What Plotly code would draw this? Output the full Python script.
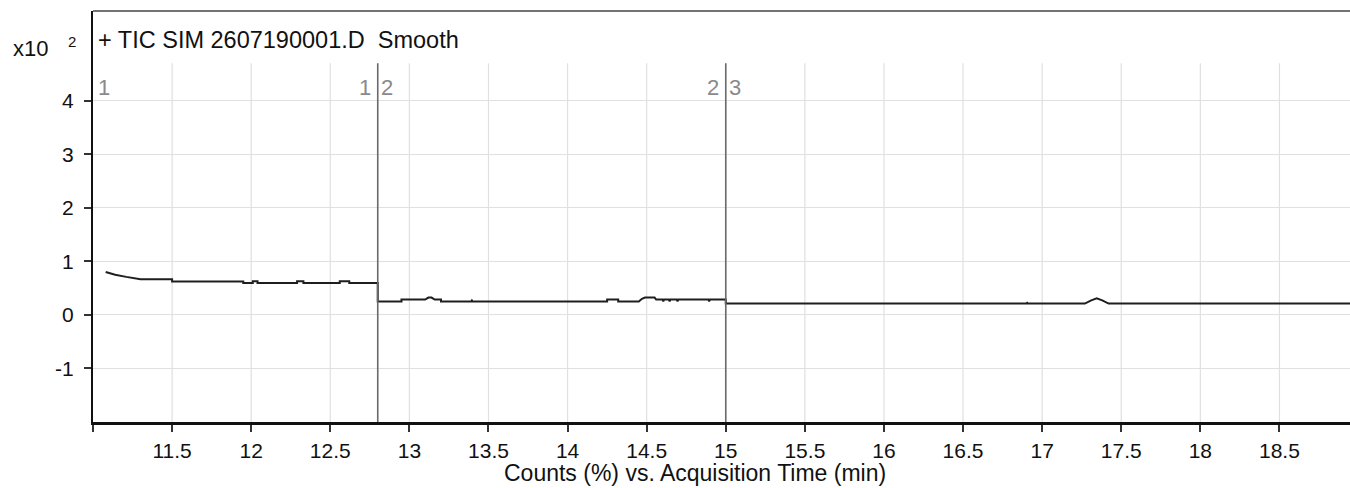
import plotly.graph_objects as go

# ---- data (x10^2 counts vs acquisition time, min) ----
time_min = [
    11.08, 11.14, 11.21, 11.30, 11.50, 11.50, 11.95, 11.95, 12.01, 12.01,
    12.04, 12.04, 12.29, 12.29, 12.33, 12.33, 12.56, 12.56, 12.62, 12.62,
    12.80, 12.80,
    12.95, 12.95, 13.10, 13.12, 13.14, 13.16, 13.20, 13.20, 13.39, 13.395,
    13.40, 14.25, 14.25, 14.32, 14.32, 14.45, 14.47, 14.49, 14.55, 14.56,
    14.60, 14.605, 14.61, 14.64, 14.645, 14.65, 14.69, 14.695, 14.70, 14.89,
    14.895, 14.90, 15.00, 15.00,
    16.90, 16.905, 16.91, 17.27, 17.31, 17.345, 17.38, 17.42, 18.96,
]
counts = [
    0.80, 0.75, 0.71, 0.665, 0.665, 0.622, 0.622, 0.596, 0.596, 0.63,
    0.63, 0.596, 0.596, 0.63, 0.63, 0.596, 0.596, 0.63, 0.63, 0.596,
    0.596, 0.249,
    0.249, 0.286, 0.286, 0.323, 0.323, 0.286, 0.286, 0.249, 0.249, 0.27,
    0.249, 0.249, 0.286, 0.286, 0.249, 0.249, 0.30, 0.323, 0.323, 0.286,
    0.286, 0.255, 0.286, 0.286, 0.255, 0.286, 0.286, 0.255, 0.286, 0.286,
    0.255, 0.286, 0.286, 0.211,
    0.211, 0.225, 0.211, 0.211, 0.27, 0.31, 0.27, 0.211, 0.211,
]
segment_bounds = [12.8, 15.0]
segment_labels = [("1", "2"), ("2", "3")]
x_ticks = [11.0, 11.5, 12.0, 12.5, 13.0, 13.5, 14.0, 14.5, 15.0, 15.5,
           16.0, 16.5, 17.0, 17.5, 18.0, 18.5]
x_ticktext = ["", "11.5", "12", "12.5", "13", "13.5", "14", "14.5", "15",
              "15.5", "16", "16.5", "17", "17.5", "18", "18.5"]
y_ticks = [-1, 0, 1, 2, 3, 4]
y_ticktext = ["-1", "0", "1", "2", "3", "4"]
title_text = "+ TIC SIM 2607190001.D\u00a0 Smooth"
x_title = "Counts (%) vs. Acquisition Time (min)"

X_RANGE = [11.0, 18.946]
Y_RANGE = [-2.0, 5.675]
GRID_TOP = 4.70
FONT = "Liberation Sans, Arial, sans-serif"

fig = go.Figure()
fig.add_trace(go.Scatter(x=time_min, y=counts, mode="lines",
                         line=dict(color="#1e1e1e", width=2),
                         hoverinfo="skip", showlegend=False))

shapes = []
# vertical gridlines (stop below the title band)
for t in x_ticks[1:]:
    shapes.append(dict(type="line", xref="x", yref="y", x0=t, x1=t,
                       y0=Y_RANGE[0], y1=GRID_TOP, layer="below",
                       line=dict(color="#e0e0e0", width=1.2)))
# segment boundary lines
for t in segment_bounds:
    shapes.append(dict(type="line", xref="x", yref="y", x0=t, x1=t,
                       y0=Y_RANGE[0], y1=GRID_TOP, layer="above",
                       line=dict(color="#6a6a6a", width=1.6)))
# top border
shapes.append(dict(type="line", xref="paper", yref="paper", x0=0, x1=1,
                   y0=1, y1=1, line=dict(color="#444444", width=1.6)))

ann = []
lab_font = dict(family=FONT, size=22, color="#8a8a8a")
label_y = 4.25
ann.append(dict(x=X_RANGE[0], y=label_y, xref="x", yref="y", text="1",
                showarrow=False, xanchor="left", xshift=3, font=lab_font))
for t, (l, r) in zip(segment_bounds, segment_labels):
    ann.append(dict(x=t, y=label_y, xref="x", yref="y", text=l,
                    showarrow=False, xanchor="right", xshift=-5, font=lab_font))
    ann.append(dict(x=t, y=label_y, xref="x", yref="y", text=r,
                    showarrow=False, xanchor="left", xshift=1, font=lab_font))
# title inside plot band
ann.append(dict(x=0.002, y=0.929, xref="paper", yref="paper", text=title_text,
                showarrow=False, xanchor="left", yanchor="middle",
                font=dict(family=FONT, size=23.5, color="#111111")))
# multiplier
ann.append(dict(x=-0.065, y=0.909, xref="paper", yref="paper", text="x10",
                showarrow=False, xanchor="left", yanchor="middle",
                font=dict(family=FONT, size=22, color="#111111")))
ann.append(dict(x=-0.0165, y=0.926, xref="paper", yref="paper", text="2",
                showarrow=False, xanchor="center", yanchor="middle",
                font=dict(family=FONT, size=15, color="#111111")))
# x axis title
ann.append(dict(x=0.479, y=-0.124, xref="paper", yref="paper", text=x_title,
                showarrow=False, xanchor="center", yanchor="middle",
                font=dict(family=FONT, size=23, color="#111111")))

fig.update_layout(
    width=1350, height=488,
    margin=dict(l=93, r=0, t=11, b=66, pad=0),
    paper_bgcolor="white", plot_bgcolor="white",
    font=dict(family=FONT, size=20, color="#111111"),
    shapes=shapes, annotations=ann, showlegend=False,
    xaxis=dict(range=X_RANGE, tickvals=x_ticks, ticktext=x_ticktext,
               showgrid=False, zeroline=False, showline=True,
               linecolor="#111111", linewidth=3, ticks="outside",
               ticklen=7, tickwidth=1.8, tickcolor="#333333",
               tickfont=dict(family=FONT, size=21, color="#111111"),
               ticklabelstandoff=1),
    yaxis=dict(range=Y_RANGE, tickvals=y_ticks, ticktext=y_ticktext,
               showgrid=True, gridcolor="#e0e0e0", gridwidth=1.2,
               zeroline=False, showline=True, linecolor="#111111",
               linewidth=2, ticks="outside", ticklen=7, tickwidth=1.8,
               tickcolor="#333333",
               tickfont=dict(family=FONT, size=21, color="#111111"),
               ticklabelstandoff=6),
)

fig.write_html("out.html")
